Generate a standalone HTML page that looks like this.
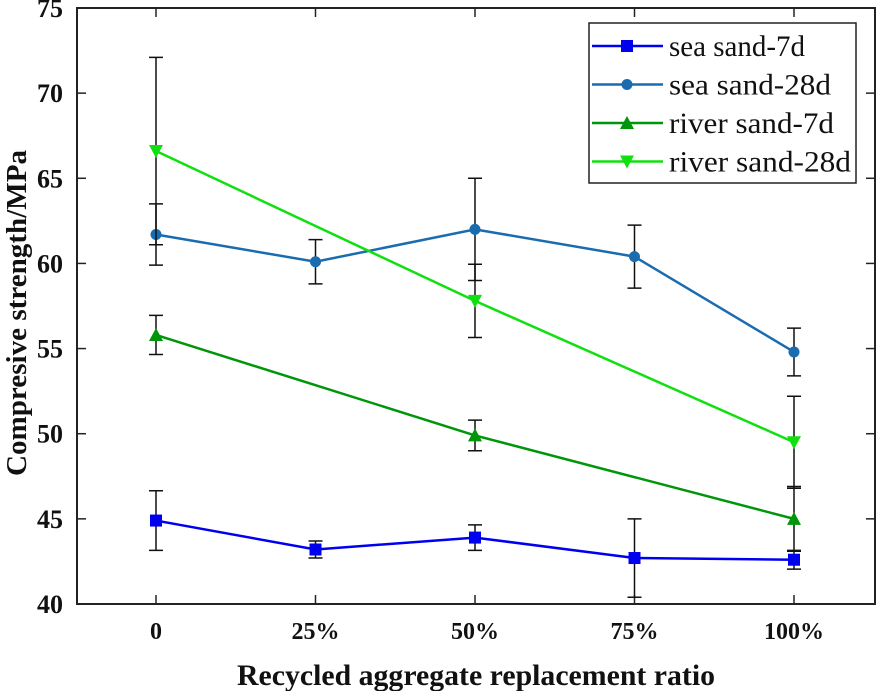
<!DOCTYPE html>
<html><head><meta charset="utf-8"><style>
html,body{margin:0;padding:0;background:#fff;}
svg{display:block;}
text{font-family:"Liberation Serif",serif;}
</style></head><body>
<svg id="chart" width="876" height="691" viewBox="0 0 876 691" xmlns="http://www.w3.org/2000/svg"></svg>
<script>
const categories = ["0","25%","50%","75%","100%"];
const yTicks = [40,45,50,55,60,65,70,75];
const sea7 = [44.9,43.2,43.9,42.7,42.6];
const sea7Err = [1.75,0.5,0.75,2.3,0.55];
const sea28 = [61.7,60.1,62.0,60.4,54.8];
const sea28Err = [1.8,1.3,3.0,1.85,1.4];
const riverIdx = [0,2,4];
const river7 = [55.8,49.9,45.0];
const river7Err = [1.15,0.9,1.9];
const river28 = [66.6,57.8,49.5];
const river28Err = [5.5,2.15,2.7];

const svg = document.getElementById('chart');
const NS = 'http://www.w3.org/2000/svg';
const L=77,R=875,T=8,B=604;
function xs(i){return 156 + i*159.5;}
function ys(v){return B - (v-40)*(B-T)/35;}
function mk(tag, attrs, parent){const e=document.createElementNS(NS,tag);for(const k in attrs)e.setAttribute(k,attrs[k]);(parent||svg).appendChild(e);return e;}

const frame = mk('rect',{x:L,y:T,width:R-L,height:B-T,fill:'none',stroke:'#222','stroke-width':2});



yTicks.forEach(v=>{
  const y=ys(v);
  const t=mk('line',{x1:L,y1:y,x2:L+9,y2:y,stroke:'#222','stroke-width':1.5});
  
  
  mk('line',{x1:R-9,y1:y,x2:R,y2:y,stroke:'#222','stroke-width':1.5});
  const lb=mk('text',{x:L-14,y:y+9,'text-anchor':'end','font-size':26,'font-weight':'bold',fill:'#111'});
  lb.textContent=v;
  
  
});
categories.forEach((c,i)=>{
  const x=xs(i);
  mk('line',{x1:x,y1:B-9,x2:x,y2:B,stroke:'#222','stroke-width':1.5});
  mk('line',{x1:x,y1:T,x2:x,y2:T+9,stroke:'#222','stroke-width':1.5});
  const lb=mk('text',{x:x,y:639,'text-anchor':'middle','font-size':24,'font-weight':'bold',fill:'#111'});
  lb.textContent=c;
  
  
});
const xt=mk('text',{x:476,y:685,'text-anchor':'middle','font-size':30,'font-weight':'bold',fill:'#111',textLength:478,lengthAdjust:'spacingAndGlyphs'});
xt.textContent='Recycled aggregate replacement ratio';


const yt=mk('text',{x:0,y:0,'text-anchor':'middle','font-size':29,'font-weight':'bold',fill:'#111',textLength:326,lengthAdjust:'spacingAndGlyphs',transform:'translate(26,313) rotate(-90)'});
yt.textContent='Compresive strength/MPa';



function marker(type,x,y,color,g){
  if(type==='sq') return mk('rect',{x:x-6,y:y-6,width:12,height:12,fill:color},g);
  if(type==='ci') return mk('circle',{cx:x,cy:y,r:5.5,fill:color},g);
  if(type==='up') return mk('polygon',{points:`${x},${y-7} ${x-7},${y+6} ${x+7},${y+6}`,fill:color},g);
  return mk('polygon',{points:`${x},${y+7} ${x-7},${y-6} ${x+7},${y-6}`,fill:color},g);
}
function series(name,idx,vals,errs,color,type){
  const g=mk('g',{});
  
  
  idx.forEach((ix,j)=>{
    const x=xs(ix),y1=ys(vals[j]-errs[j]),y2=ys(vals[j]+errs[j]);
    const eb=mk('path',{d:`M${x},${y1}V${y2}M${x-7},${y1}H${x+7}M${x-7},${y2}H${x+7}`,stroke:'#111','stroke-width':1.5,fill:'none'},g);
    
    
  });
  const pts=idx.map((ix,j)=>xs(ix)+','+ys(vals[j])).join(' ');
  const pl=mk('polyline',{points:pts,fill:'none',stroke:color,'stroke-width':2.5},g);
  
  
  idx.forEach((ix,j)=>{
    const m=marker(type,xs(ix),ys(vals[j]),color,g);
    
    
  });
}
const C={s7:'#0000f0',s28:'#1a6cb0',r7:'#00960a',r28:'#10e010'};
series('sea-sand-28d',[0,1,2,3,4],sea28,sea28Err,C.s28,'ci');
series('river-sand-7d',riverIdx,river7,river7Err,C.r7,'up');
series('river-sand-28d',riverIdx,river28,river28Err,C.r28,'dn');
series('sea-sand-7d',[0,1,2,3,4],sea7,sea7Err,C.s7,'sq');

const lg=mk('g',{});


mk('rect',{x:589,y:23,width:267,height:160,fill:'#fff',stroke:'#222','stroke-width':1.5},lg);
const entries=[['sea sand-7d',C.s7,'sq',136],['sea sand-28d',C.s28,'ci',162],['river sand-7d',C.r7,'up',165],['river sand-28d',C.r28,'dn',182]];
entries.forEach((e,i)=>{
  const y=46+i*38.5;
  const eg=mk('g',{},lg);
  
  
  mk('line',{x1:592,y1:y,x2:663,y2:y,stroke:e[1],'stroke-width':2.5},eg);
  marker(e[2],627,y,e[1],eg);
  const t=mk('text',{x:669,y:y+10,'font-size':30,fill:'#111',textLength:e[3],lengthAdjust:'spacingAndGlyphs'},eg);
  t.textContent=e[0];
});
</script>
</body></html>
